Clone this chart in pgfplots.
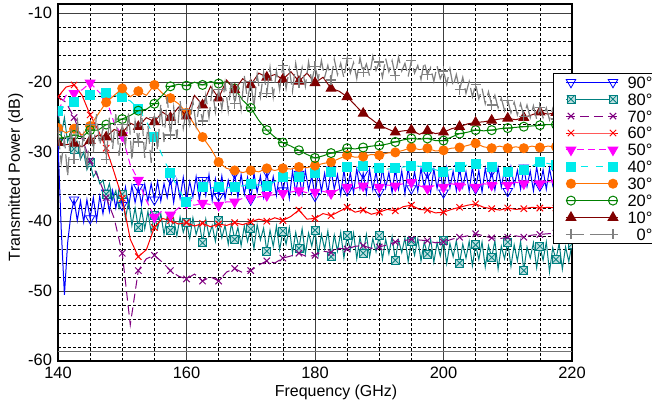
\documentclass[border=0pt]{standalone}
\usepackage{pgfplots}
\pgfplotsset{compat=1.18}
\usepackage{fontspec}
\setmainfont{Liberation Sans}
\definecolor{c90}{RGB}{0,0,255}
\definecolor{c80}{RGB}{0,128,128}
\definecolor{c70}{RGB}{128,0,128}
\definecolor{c60}{RGB}{255,0,0}
\definecolor{c50}{RGB}{255,0,255}
\definecolor{c40}{RGB}{0,235,235}
\definecolor{c30}{RGB}{255,112,0}
\definecolor{c20}{RGB}{0,128,0}
\definecolor{c10}{RGB}{128,0,0}
\definecolor{c0}{RGB}{128,128,128}
\pgfdeclareplotmark{boxx}{%
  \pgfpathrectangle{\pgfpoint{-\pgfplotmarksize}{-\pgfplotmarksize}}{\pgfpoint{2\pgfplotmarksize}{2\pgfplotmarksize}}%
  \pgfusepathqfillstroke
  \pgfpathmoveto{\pgfpoint{-\pgfplotmarksize}{-\pgfplotmarksize}}\pgfpathlineto{\pgfpoint{\pgfplotmarksize}{\pgfplotmarksize}}%
  \pgfpathmoveto{\pgfpoint{-\pgfplotmarksize}{\pgfplotmarksize}}\pgfpathlineto{\pgfpoint{\pgfplotmarksize}{-\pgfplotmarksize}}%
  \pgfusepathqstroke}
\pgfdeclareplotmark{ominus}{%
  \pgfpathcircle{\pgfpointorigin}{\pgfplotmarksize}%
  \pgfpathmoveto{\pgfpoint{-\pgfplotmarksize}{0pt}}\pgfpathlineto{\pgfpoint{\pgfplotmarksize}{0pt}}%
  \pgfusepathqstroke}
\begin{document}
\begin{tikzpicture}
\begin{axis}[
  scale only axis, width=514bp, height=357bp,
  xmin=140, xmax=220, ymin=-60, ymax=-8.66,
  xtick={140,160,180,200,220}, ytick={-60,-50,-40,-30,-20,-10},
  minor x tick num=3, minor y tick num=4,
  grid=both,
  major grid style={black!75, line width=0.9bp},
  minor grid style={black, line width=0.65bp, dash pattern=on 3bp off 2bp},
  extra y ticks={-58.6}, extra y tick labels={},
  extra y tick style={grid=major, major grid style={black!55, line width=0.9bp, solid}},
  major tick length=0pt, minor tick length=0pt,
  axis line style={black, line width=1.4bp},
  /pgf/number format/assume math mode=true,
  ticklabel style={font=\fontsize{16.5}{18}\selectfont},
  xticklabel style={yshift=-3bp},
  yticklabel style={xshift=-2.5bp, yshift=0.8bp},
  xlabel={Frequency (GHz)}, ylabel={Transmitted Power (dB)},
  label style={font=\fontsize{16}{18}\selectfont},
  xlabel style={at={(axis description cs:0.541,-0.087)}, anchor=center},
  ylabel style={at={(axis description cs:-0.082,0.515)}, anchor=center, rotate=0},
  clip marker paths=true,
  every axis plot/.append style={line width=1bp},
  legend cell align=right,
  legend style={at={(0.963,0.8067)}, anchor=north west, draw=black, line width=0.8bp,
    fill=white, font=\fontsize{16.5}{18}\selectfont, inner xsep=3bp, inner ysep=3bp,
    nodes={inner sep=0pt, text height=11.8bp, text depth=0bp}, row sep=5.1bp, column sep=9bp},
  legend image code/.code={\path (-9bp,0bp) (52bp,0bp);
    \draw[mark repeat=3, mark phase=2] plot coordinates {(0bp,0bp)(5bp,0bp)(26bp,0bp)(26bp,0bp)(47bp,0bp)(52bp,0bp)};},
]
% 90 deg
\addplot[color=c90, mark=triangle, mark size=5.5bp, mark options={solid, rotate=180, fill=white, line width=0.8bp}, mark repeat=5, mark phase=1] coordinates {
(140,-28.5)(140.5,-41)(141,-50.5)(141.5,-43)(142,-39)(142.5,-36.8)(143,-39.8)(143.5,-37)(144,-40)(144.5,-36.8)
(145,-39.5)(145.5,-36.5)(146,-39.8)(146.5,-36.3)(147,-38.8)(147.5,-35.8)(148,-38.5)(148.5,-35.5)(149,-38)(149.5,-35.3)
(150,-37.6)(150.5,-35)(151,-37.8)(151.5,-34.8)(152,-37.2)(152.5,-35)(153,-37.5)(153.5,-34.6)(154,-37)(154.5,-34.5)
(155,-36.8)(155.5,-34.2)(156,-37)(156.5,-34.5)(157,-36.5)(157.5,-33.8)(158,-37.2)(158.5,-34)(159,-36.6)(159.5,-33.6)
(160,-37)(160.5,-34.2)(161,-36.4)(161.5,-33.5)(162,-36.8)(162.5,-34)(163,-36.2)(163.5,-33.2)(164,-36.9)(164.5,-33.8)
(165,-36.3)(165.5,-33.4)(166,-36.7)(166.5,-34)(167,-35.9)(167.5,-33)(168,-36.5)(168.5,-33.2)(169,-36)(169.5,-33.6)
(170,-36.8)(170.5,-33)(171,-35.7)(171.5,-33.4)(172,-36.4)(172.5,-32.8)(173,-35.9)(173.5,-33.5)(174,-36.2)(174.5,-32.9)
(175,-35.5)(175.5,-33.3)(176,-36.6)(176.5,-32.7)(177,-35.8)(177.5,-33.1)(178,-36)(178.5,-32.6)(179,-35.4)(179.5,-33.4)
(180,-36.3)(180.5,-32.8)(181,-35.6)(181.5,-33)(182,-35.9)(182.5,-32.5)(183,-35.3)(183.5,-33.2)(184,-36.1)(184.5,-32.6)
(185,-35.5)(185.5,-32.9)(186,-35.8)(186.5,-32.4)(187,-35.2)(187.5,-33)(188,-35.9)(188.5,-32.5)(189,-35.4)(189.5,-32.8)
(190,-35.7)(190.5,-32.3)(191,-35.1)(191.5,-32.9)(192,-35.8)(192.5,-32.4)(193,-35.3)(193.5,-32.7)(194,-35.9)(194.5,-32.2)
(195,-35.2)(195.5,-32.8)(196,-35.6)(196.5,-32.3)(197,-35)(197.5,-32.9)(198,-35.7)(198.5,-32.4)(199,-35.2)(199.5,-32.6)
(200,-35.8)(200.5,-32.2)(201,-35.1)(201.5,-32.7)(202,-35.5)(202.5,-32.3)(203,-35)(203.5,-32.8)(204,-35.6)(204.5,-32.1)
(205,-35.2)(205.5,-32.6)(206,-35.7)(206.5,-32.3)(207,-34.9)(207.5,-32.7)(208,-35.4)(208.5,-32.2)(209,-35)(209.5,-32.5)
(210,-35.6)(210.5,-32.1)(211,-34.8)(211.5,-32.6)(212,-35.3)(212.5,-32.2)(213,-34.9)(213.5,-32.7)(214,-35.5)(214.5,-32.1)
(215,-34.8)(215.5,-32.5)(216,-35.3)(216.5,-32.3)(217,-34.7)(217.5,-32.6)(218,-35.2)(218.5,-32.2)(219,-34.8)(219.5,-32.4)(220,-35)};
\addlegendentry{90°}
% 80 deg
\addplot[color=c80, mark=boxx, mark size=4bp, mark options={solid, fill=c80!25, line width=0.8bp}, mark repeat=5, mark phase=1] coordinates {
(140,-24)(140.5,-27.5)(141,-25)(141.5,-28.5)(142,-27)(142.5,-29.5)(143,-28.5)(143.5,-31)(144,-30)(144.5,-32.5)
(145,-31.5)(145.5,-33.5)(146,-32.8)(146.5,-34.5)(147,-34)(147.5,-36)(148,-34.5)(148.5,-36.8)(149,-35.5)(149.5,-38)
(150,-36)(150.5,-39.5)(151,-37)(151.5,-40.5)(152,-38)(152.5,-40.8)(153,-38.2)(153.5,-41)(154,-38.5)(154.5,-41.5)
(155,-39)(155.5,-41)(156,-38.8)(156.5,-41.8)(157,-39.2)(157.5,-41.2)(158,-39.5)(158.5,-42)(159,-39.3)(159.5,-41.5)
(160,-40)(160.5,-42.4)(161,-39.4)(161.5,-41.8)(162,-40.2)(162.5,-43)(163,-39.6)(163.5,-42)(164,-40.5)(164.5,-42.8)
(165,-39.8)(165.5,-42.3)(166,-40.5)(166.5,-43.2)(167,-40.2)(167.5,-42.5)(168,-40.8)(168.5,-43.4)(169,-40.6)(169.5,-42.8)
(170,-41)(170.5,-43.8)(171,-40.4)(171.5,-42.6)(172,-40.9)(172.5,-44.2)(173,-41.2)(173.5,-43.5)(174,-40.6)(174.5,-44)
(175,-41.3)(175.5,-43.2)(176,-40.8)(176.5,-44.5)(177,-41.5)(177.5,-43.8)(178,-41)(178.5,-44.6)(179,-41.6)(179.5,-43.5)
(180,-41.2)(180.5,-44.8)(181,-41.8)(181.5,-43.9)(182,-41.3)(182.5,-45)(183,-41.9)(183.5,-44.2)(184,-41.5)(184.5,-45.2)
(185,-42)(185.5,-44)(186,-41.6)(186.5,-45.3)(187,-42.2)(187.5,-44.5)(188,-41.8)(188.5,-45)(189,-42.4)(189.5,-44.3)
(190,-42)(190.5,-45.4)(191,-42.5)(191.5,-44.6)(192,-42.1)(192.5,-45.5)(193,-42.6)(193.5,-44.4)(194,-42.3)(194.5,-45.7)
(195,-42.8)(195.5,-44.8)(196,-42.4)(196.5,-45.6)(197,-42.9)(197.5,-44.6)(198,-42.5)(198.5,-45.8)(199,-43)(199.5,-44.9)
(200,-42.6)(200.5,-46)(201,-43.1)(201.5,-45)(202,-42.7)(202.5,-45.9)(203,-43.2)(203.5,-45.2)(204,-42.8)(204.5,-46.3)
(205,-43.3)(205.5,-45.4)(206,-42.9)(206.5,-46.5)(207,-43.4)(207.5,-45.1)(208,-42.7)(208.5,-46.8)(209,-43.5)(209.5,-45.3)
(210,-42.9)(210.5,-46.4)(211,-43.3)(211.5,-45.6)(212,-42.8)(212.5,-47)(213,-43.6)(213.5,-45.2)(214,-43)(214.5,-46.6)
(215,-43.5)(215.5,-45.5)(216,-42.9)(216.5,-47.2)(217,-43.7)(217.5,-45.4)(218,-43.1)(218.5,-46.8)(219,-43.6)(219.5,-45.7)(220,-43.2)};
\addlegendentry{80°}
% 70 deg
\addplot[color=c70, dash pattern=on 9bp off 5bp, mark=x, mark size=4.5bp, mark options={solid}, mark repeat=2, mark phase=1] coordinates {
(140,-22)(141.25,-22.8)(142.5,-25)(143.75,-28)(145,-31.2)(146.25,-33.6)(147.5,-36.5)(148.75,-39.5)(150,-44.5)(151.25,-54.8)
(152.5,-47)(153.75,-45.3)(155,-44.8)(156.25,-45.8)(157.5,-47)(158.75,-47.8)(160,-48.2)(161.25,-47.5)(162.5,-48.5)(163.75,-47.9)
(165,-48.5)(166.25,-47.2)(167.5,-46.7)(168.75,-47.3)(170,-47)(171.25,-46.2)(172.5,-45.6)(173.75,-45.9)(175,-45.2)(176.25,-44.9)
(177.5,-44.5)(178.75,-45)(180,-44.8)(181.25,-44.2)(182.5,-44.4)(183.75,-43.8)(185,-43.9)(186.25,-43.5)(187.5,-43.4)(188.75,-43.8)
(190,-43.6)(191.25,-43.3)(192.5,-42.9)(193.75,-42.7)(195,-42.5)(196.25,-42.6)(197.5,-42.7)(198.75,-43)(200,-42.9)(201.25,-42.5)
(202.5,-42.2)(203.75,-42)(205,-41.7)(206.25,-42)(207.5,-42.3)(208.75,-42.4)(210,-42.2)(211.25,-42)(212.5,-42.2)(213.75,-41.9)
(215,-41.8)(216.25,-41.7)(217.5,-41.6)(218.75,-41.7)(220,-41.5)};
\addlegendentry{70°}
% 60 deg
\addplot[color=c60, mark=x, mark size=4.5bp, mark options={solid}, mark repeat=2, mark phase=1] coordinates {
(140,-22)(141.25,-20.6)(142.5,-20.3)(143.75,-21.8)(145,-24.6)(146.25,-26.8)(147.5,-29.4)(148.75,-32.9)(150,-36.6)(151.25,-42.5)
(152.5,-45)(153.75,-44)(155,-40.8)(156.25,-39.5)(157.5,-39.8)(158.75,-40.3)(160,-40.1)(161.25,-40.6)(162.5,-40.2)(163.75,-40.7)
(165,-40.3)(166.25,-40.5)(167.5,-40.1)(168.75,-40.4)(170,-40)(171.25,-39.6)(172.5,-39.9)(173.75,-39.4)(175,-39.8)(176.25,-39.2)
(177.5,-38.3)(178.75,-39.6)(180,-39.5)(181.25,-38.8)(182.5,-39.1)(183.75,-38.5)(185,-37.9)(186.25,-38.6)(187.5,-38.3)(188.75,-38.9)
(190,-38.6)(191.25,-38.2)(192.5,-38.4)(193.75,-37.8)(195,-37.6)(196.25,-38.2)(197.5,-38.3)(198.75,-38.7)(200,-38.6)(201.25,-38.2)
(202.5,-37.9)(203.75,-37.6)(205,-37.4)(206.25,-37.9)(207.5,-38.1)(208.75,-38.3)(210,-38)(211.25,-38.2)(212.5,-38.1)(213.75,-37.9)
(215,-38)(216.25,-37.9)(217.5,-38)(218.75,-38.1)(220,-38)};
\addlegendentry{60°}
% 50 deg
\addplot[color=c50, dash pattern=on 7bp off 4bp, mark=triangle*, mark size=5.5bp, mark options={solid, rotate=180}, mark repeat=2, mark phase=1] coordinates {
(140,-24)(141.25,-21.8)(142.5,-21.5)(143.75,-21)(145,-20)(146.25,-21.2)(147.5,-22.3)(148.75,-25.8)(150,-27.6)(151.25,-31.8)
(152.5,-34)(153.75,-36.9)(155,-39.3)(156.25,-38.4)(157.5,-39)(158.75,-38)(160,-37.3)(161.25,-37.6)(162.5,-37.3)(163.75,-37.5)
(165,-37.6)(166.25,-37.1)(167.5,-37.1)(168.75,-36.6)(170,-36.6)(171.25,-36.4)(172.5,-36.2)(173.75,-36.1)(175,-35.9)(176.25,-35.7)
(177.5,-35.5)(178.75,-35.8)(180,-35.7)(181.25,-35.6)(182.5,-35.9)(183.75,-35.3)(185,-35)(186.25,-35.2)(187.5,-34.8)(188.75,-35.1)
(190,-35)(191.25,-34.7)(192.5,-34.8)(193.75,-34.5)(195,-34.3)(196.25,-34.8)(197.5,-35.2)(198.75,-34.7)(200,-35)(201.25,-34.5)
(202.5,-34.8)(203.75,-34.6)(205,-35)(206.25,-34.5)(207.5,-34.7)(208.75,-34.4)(210,-34.7)(211.25,-34.3)(212.5,-34.5)(213.75,-34.2)
(215,-34.5)(216.25,-34.2)(217.5,-34.4)(218.75,-34.1)(220,-34.3)};
\addlegendentry{50°}
% 40 deg
\addplot[color=c40, dash pattern=on 7bp off 8bp, mark=square*, mark size=4.5bp, mark options={solid}, mark repeat=2, mark phase=1] coordinates {
(140,-24)(141.25,-23.2)(142.5,-22.8)(143.75,-22.3)(145,-21.8)(146.25,-21.6)(147.5,-21.5)(148.75,-21.8)(150,-22.1)(151.25,-22.6)
(152.5,-23.7)(153.75,-25.5)(155,-27.8)(156.25,-30.5)(157.5,-33)(158.75,-35.3)(160,-37.2)(161.25,-35.8)(162.5,-35)(163.75,-35.1)
(165,-35)(166.25,-35.1)(167.5,-35)(168.75,-34.8)(170,-34.6)(171.25,-34.7)(172.5,-34.8)(173.75,-34.2)(175,-33.6)(176.25,-33.7)
(177.5,-33.5)(178.75,-33.3)(180,-33)(181.25,-33)(182.5,-32.8)(183.75,-32.5)(185,-32.1)(186.25,-32.2)(187.5,-32)(188.75,-32.2)
(190,-32.3)(191.25,-32.4)(192.5,-32.3)(193.75,-32.1)(195,-31.9)(196.25,-32)(197.5,-32.1)(198.75,-32.5)(200,-32.8)(201.25,-32.4)
(202.5,-32.1)(203.75,-31.8)(205,-31.6)(206.25,-31.9)(207.5,-32.1)(208.75,-32.5)(210,-32.8)(211.25,-32.7)(212.5,-32.6)(213.75,-32)
(215,-31.4)(216.25,-31.6)(217.5,-31.8)(218.75,-31.7)(220,-31.6)};
\addlegendentry{40°}
% 30 deg
\addplot[color=c30, mark=*, mark size=4.5bp, mark options={solid}, mark repeat=2, mark phase=1] coordinates {
(140,-26.5)(141.25,-27.2)(142.5,-26.6)(143.75,-27.5)(145,-26.2)(146.25,-24.5)(147.5,-22.8)(148.75,-21.8)(150,-20.8)(151.25,-22)
(152.5,-21.2)(153.75,-21.8)(155,-20.3)(156.25,-21.5)(157.5,-22.2)(158.75,-23)(160,-24.3)(161.25,-26)(162.5,-27.8)(163.75,-29.4)
(165,-31.4)(166.25,-32.3)(167.5,-32.6)(168.75,-32.9)(170,-32.6)(171.25,-32.8)(172.5,-32.3)(173.75,-32.6)(175,-32.3)(176.25,-32.4)
(177.5,-32.1)(178.75,-32.2)(180,-31.9)(181.25,-31.6)(182.5,-31.4)(183.75,-30.9)(185,-30.4)(186.25,-30.7)(187.5,-30.6)(188.75,-30.3)
(190,-30.4)(191.25,-30.1)(192.5,-30)(193.75,-29.7)(195,-29.3)(196.25,-29.6)(197.5,-29.4)(198.75,-29.8)(200,-29.7)(201.25,-29.4)
(202.5,-29.3)(203.75,-29)(205,-28.7)(206.25,-29.2)(207.5,-29.4)(208.75,-29.1)(210,-29.4)(211.25,-29.2)(212.5,-29.4)(213.75,-29.1)
(215,-29.3)(216.25,-29.1)(217.5,-29.2)(218.75,-29)(220,-29.1)};
\addlegendentry{30°}
% 20 deg
\addplot[color=c20, mark=ominus, mark size=4.5bp, mark options={solid}, mark repeat=2, mark phase=1] coordinates {
(140,-28)(141.25,-27.8)(142.5,-27.5)(143.75,-27.8)(145,-26.8)(146.25,-26.8)(147.5,-26)(148.75,-25.8)(150,-25.2)(151.25,-24.7)
(152.5,-24)(153.75,-23.8)(155,-23)(156.25,-21.8)(157.5,-20.5)(158.75,-20.2)(160,-20.4)(161.25,-19.9)(162.5,-20.3)(163.75,-19.8)
(165,-20.1)(166.25,-19.8)(167.5,-20.8)(168.75,-22.5)(170,-23.6)(171.25,-25.4)(172.5,-26.8)(173.75,-27.8)(175,-28.6)(176.25,-29.1)
(177.5,-29.7)(178.75,-30.3)(180,-30.8)(181.25,-30.5)(182.5,-30.1)(183.75,-29.8)(185,-29.4)(186.25,-29.5)(187.5,-29.3)(188.75,-29.1)
(190,-29)(191.25,-28.8)(192.5,-28.5)(193.75,-28.2)(195,-28)(196.25,-28.1)(197.5,-28)(198.75,-28.3)(200,-28.3)(201.25,-27.8)
(202.5,-27.3)(203.75,-27.1)(205,-26.8)(206.25,-26.9)(207.5,-26.8)(208.75,-26.6)(210,-26.5)(211.25,-26.4)(212.5,-26.3)(213.75,-26.2)
(215,-26.1)(216.25,-26)(217.5,-26)(218.75,-25.9)(220,-25.9)};
\addlegendentry{20°}
% 10 deg
\addplot[color=c10, mark=triangle*, mark size=5.5bp, mark options={solid}, mark repeat=2, mark phase=1] coordinates {
(140,-28.6)(141.25,-28.9)(142.5,-28.7)(143.75,-29.2)(145,-28.3)(146.25,-27.5)(147.5,-27.8)(148.75,-26.7)(150,-27.2)(151.25,-25.8)
(152.5,-26.3)(153.75,-25)(155,-25.6)(156.25,-24.2)(157.5,-25)(158.75,-23.5)(160,-24.8)(161.25,-21.8)(162.5,-23.2)(163.75,-20.5)
(165,-22.2)(166.25,-19.6)(167.5,-21)(168.75,-19.4)(170,-20.3)(171.25,-18.6)(172.5,-19.2)(173.75,-18.8)(175,-19.5)(176.25,-18.4)
(177.5,-19.8)(178.75,-18.6)(180,-20)(181.25,-19.2)(182.5,-20.8)(183.75,-21.2)(185,-22)(186.25,-23.2)(187.5,-24.4)(188.75,-25.2)
(190,-26.1)(191.25,-26.6)(192.5,-27.1)(193.75,-26.9)(195,-26.8)(196.25,-27.4)(197.5,-26.9)(198.75,-27.3)(200,-27.1)(201.25,-26.6)
(202.5,-26.3)(203.75,-25.9)(205,-25.7)(206.25,-25.6)(207.5,-25.4)(208.75,-25.2)(210,-25.1)(211.25,-25.3)(212.5,-25)(213.75,-24.6)
(215,-24.2)(216.25,-24.5)(217.5,-24.3)(218.75,-24.6)(220,-24.4)};
\addlegendentry{10°}
% 0 deg
\addplot[color=c0, line width=1.2bp, dash pattern=on 18bp off 6bp, mark=+, mark size=5bp, mark options={solid}, mark repeat=5, mark phase=1] coordinates {
(140,-27)(140.5,-31.5)(141,-28)(141.5,-33.5)(142,-26.5)(142.5,-31)(143,-25)(143.5,-30.5)(144,-27.5)(144.5,-32.5)
(145,-26)(145.5,-30)(146,-24.5)(146.5,-29)(147,-26.5)(147.5,-31)(148,-25)(148.5,-29.5)(149,-24.5)(149.5,-30.5)
(150,-26)(150.5,-29)(151,-24.2)(151.5,-31.2)(152,-25.5)(152.5,-28.5)(153,-24)(153.5,-30.8)(154,-26.2)(154.5,-31.5)
(155,-25)(155.5,-29.8)(156,-23)(156.5,-28.5)(157,-22)(157.5,-27.5)(158,-23.5)(158.5,-28)(159,-22.5)(159.5,-26.5)
(160,-23.8)(160.5,-26)(161,-22.6)(161.5,-26.2)(162,-23)(162.5,-25.5)(163,-21.8)(163.5,-25)(164,-20.8)(164.5,-24.2)
(165,-21)(165.5,-23.8)(166,-20)(166.5,-24)(167,-19.5)(167.5,-23)(168,-20.5)(168.5,-23.8)(169,-19)(169.5,-22.5)
(170,-19.8)(170.5,-23.5)(171,-18.8)(171.5,-22)(172,-18.5)(172.5,-21.5)(173,-17.8)(173.5,-22)(174,-18.3)(174.5,-21)
(175,-17.5)(175.5,-20.8)(176,-18)(176.5,-21.2)(177,-17.2)(177.5,-20)(178,-17.8)(178.5,-20.5)(179,-17)(179.5,-19.8)
(180,-17.6)(180.5,-19.5)(181,-16.8)(181.5,-19.2)(182,-17.5)(182.5,-19.6)(183,-16.6)(183.5,-18.8)(184,-17.2)(184.5,-19.3)
(185,-16.5)(185.5,-18.6)(186,-17.1)(186.5,-19.4)(187,-16.4)(187.5,-18.5)(188,-17.3)(188.5,-19)(189,-16.2)(189.5,-18.2)
(190,-17)(190.5,-19.2)(191,-16.5)(191.5,-18.4)(192,-16.8)(192.5,-19)(193,-16.3)(193.5,-18.3)(194,-17.2)(194.5,-19.1)
(195,-16.8)(195.5,-18.6)(196,-17.5)(196.5,-19.5)(197,-17)(197.5,-18.8)(198,-17.8)(198.5,-19.8)(199,-17.6)(199.5,-19.4)
(200,-18.3)(200.5,-20.2)(201,-18)(201.5,-20.5)(202,-18.8)(202.5,-21)(203,-19.2)(203.5,-21.5)(204,-19.8)(204.5,-22)
(205,-20.2)(205.5,-22.3)(206,-20.8)(206.5,-23)(207,-21.3)(207.5,-23.2)(208,-21.8)(208.5,-23.6)(209,-22.2)(209.5,-24)
(210,-22.5)(210.5,-24.3)(211,-22.8)(211.5,-24.6)(212,-23)(212.5,-24.8)(213,-23.2)(213.5,-25)(214,-23.3)(214.5,-25.2)
(215,-23.5)(215.5,-25)(216,-23.6)(216.5,-25.3)(217,-23.7)(217.5,-25.2)(218,-23.8)(218.5,-25.4)(219,-24)(219.5,-25.5)(220,-24.2)};
\addlegendentry{0°}
\end{axis}
\pgfresetboundingbox
\path (current axis.south west) ++(-58bp,-44bp) rectangle ++(652bp,405bp);
\end{tikzpicture}
\end{document}
